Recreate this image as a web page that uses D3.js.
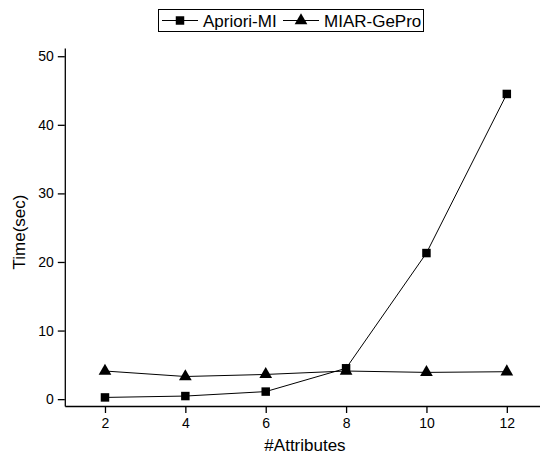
<!DOCTYPE html>
<html><head><meta charset="utf-8">
<script src="https://cdn.jsdelivr.net/npm/d3@7"></script>
<style>body{margin:0;background:#fff}svg{display:block;font-family:"Liberation Sans",Arial,sans-serif}</style>
</head><body><svg id="c" width="540" height="457"></svg>
<script>
const categories = [2, 4, 6, 8, 10, 12];
const aprioriMI = [0.25, 0.45, 1.1, 4.5, 21.3, 44.5];
const miarGePro = [4.1, 3.3, 3.6, 4.1, 3.9, 4.0];
const yTicks = [0, 10, 20, 30, 40, 50];
const seriesNames = ["Apriori-MI", "MIAR-GePro"];

const svg = d3.select("#c");
const x = d3.scaleLinear().domain([1, 13]).range([64.8, 547]);
const y = d3.scaleLinear().domain([-1, 51.2]).range([406, 48]);

// axes
const gx = svg.append("g").attr("transform", "translate(0,406)")
  .call(d3.axisBottom(x).tickValues(categories).tickSize(7).tickPadding(5).tickSizeOuter(0));
const gy = svg.append("g").attr("transform", "translate(64.8,0)")
  .call(d3.axisLeft(y).tickValues(yTicks).tickSize(7).tickPadding(4).tickSizeOuter(0));
[gx, gy].forEach(g => {
  g.selectAll("text").attr("font-size", 14).attr("fill", "#000").attr("font-family", "Liberation Sans, Arial, sans-serif");
  g.selectAll("line,path").attr("stroke", "#000").attr("stroke-width", 1.3);
});

svg.append("text").attr("x", 305).attr("y", 451).attr("text-anchor", "middle")
  .attr("font-size", 17).text("#Attributes");
svg.append("text").attr("transform", "translate(25,232) rotate(-90)").attr("text-anchor", "middle")
  .attr("font-size", 17).text("Time(sec)");

const line = d3.line().x((d, i) => x(categories[i])).y(d => y(d));
svg.append("path").datum(miarGePro).attr("d", line).attr("fill", "none").attr("stroke", "#000").attr("stroke-width", 1);
svg.append("path").datum(aprioriMI).attr("d", line).attr("fill", "none").attr("stroke", "#000").attr("stroke-width", 1);

const sq = d3.symbol().type(d3.symbolSquare).size(72);
const tri = d3.symbol().type(d3.symbolTriangle).size(70);
svg.selectAll(".t").data(miarGePro).enter().append("path")
  .attr("d", tri).attr("transform", (d, i) => `translate(${x(categories[i])},${y(d)})`).attr("fill", "#000");
svg.selectAll(".s").data(aprioriMI).enter().append("path")
  .attr("d", sq).attr("transform", (d, i) => `translate(${x(categories[i])},${y(d)})`).attr("fill", "#000");

// legend
const lg = svg.append("g");
lg.append("rect").attr("x", 158.5).attr("y", 9.5).attr("width", 265).attr("height", 22)
  .attr("fill", "#fff").attr("stroke", "#000").attr("stroke-width", 1);
const items = [{name: seriesNames[0], x0: 162, sym: sq}, {name: seriesNames[1], x0: 283, sym: tri}];
items.forEach(it => {
  lg.append("line").attr("x1", it.x0).attr("x2", it.x0 + 36).attr("y1", 20.5).attr("y2", 20.5).attr("stroke", "#000").attr("stroke-width", 1);
  lg.append("path").attr("d", it.sym).attr("transform", `translate(${it.x0 + 18},20.5)`).attr("fill", "#000");
  lg.append("text").attr("x", it.x0 + 41).attr("y", 26.5).attr("font-size", 17).text(it.name);
});
</script></body></html>
